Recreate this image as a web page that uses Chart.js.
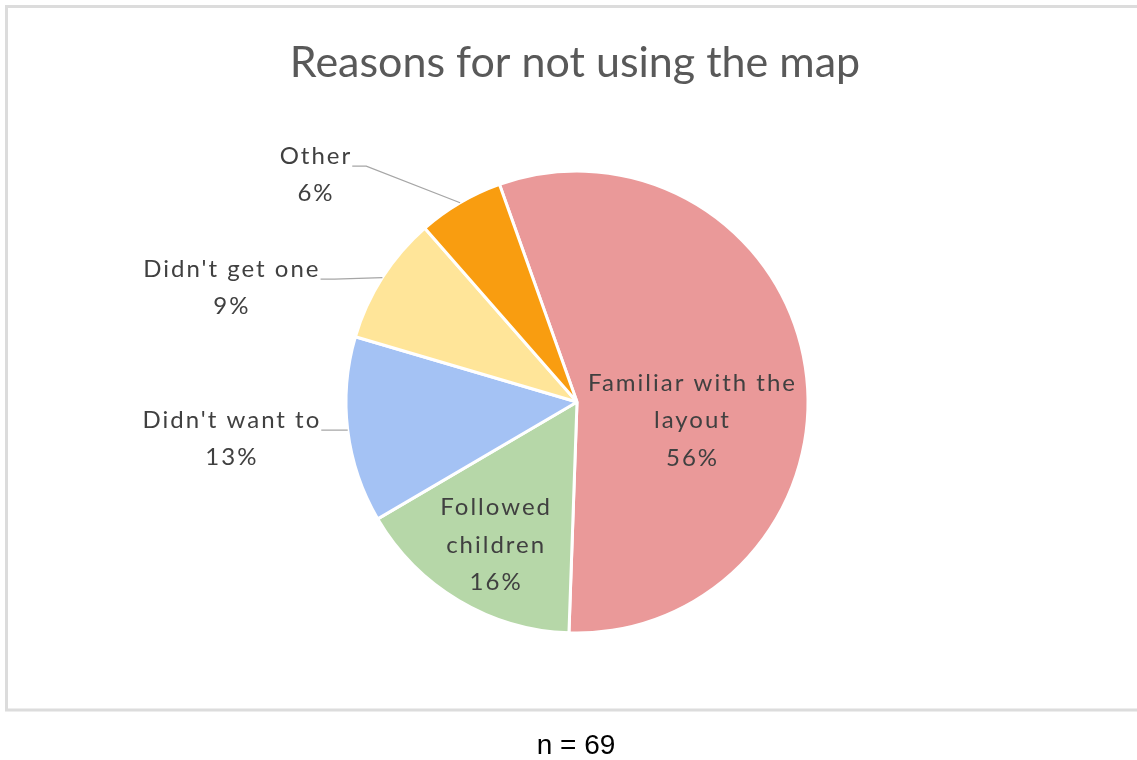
<!DOCTYPE html>
<html>
<head>
<meta charset="utf-8">
<script src="https://cdn.jsdelivr.net/npm/chart.js@4.4.1/dist/chart.umd.min.js"></script>
<style>
  html, body { margin: 0; padding: 0; background: #ffffff; }
  #wrap { width: 1137px; height: 760px; position: relative; }
</style>
</head>
<body>
<div id="wrap"><canvas id="chart" width="1137" height="760"></canvas></div>
<script>
// Survey answers: why respondents did not use the map (percent of answers)
const categories = ["Familiar with the layout", "Followed children", "Didn't want to", "Didn't get one", "Other"];
const percents = [56, 16, 13, 9, 6];
const sliceColors = ["#EA9999", "#B6D7A8", "#A4C2F4", "#FFE599", "#F99D10"];
const chartTitle = "Reasons for not using the map";
const sampleNote = "n = 69";

// Label placement, in units of the pie radius relative to its centre.
// inside: text sits on the slice; otherwise it sits outside with a leader line.
const labelLayout = [
  { dx: 0.50, dy: 0.08, inside: true, wrap: 240 },
  { dx: -0.35, dy: 0.62, inside: true, wrap: 130 },
  { dx: -1.494, dy: 0.16, inside: false, wrap: 400 },
  { dx: -1.494, dy: -0.494, inside: false, wrap: 400 },
  { dx: -1.13, dy: -0.983, inside: false, wrap: 400 }
];

const LABEL_FONT = '24px Lato, "Open Sans", sans-serif';
const LABEL_SPACING = '2px';
const LINE_H = 37.5;

function wrapText(ctx, text, maxW) {
  const words = text.split(' ');
  const lines = [];
  let cur = '';
  for (const w of words) {
    const t = cur ? cur + ' ' + w : w;
    if (cur && ctx.measureText(t).width > maxW) { lines.push(cur); cur = w; }
    else cur = t;
  }
  if (cur) lines.push(cur);
  return lines;
}

const decorations = {
  id: 'decorations',
  beforeDraw(chart) {
    const ctx = chart.ctx;
    ctx.save();
    ctx.fillStyle = '#ffffff';
    ctx.fillRect(0, 0, chart.width, chart.height);
    // chart frame (open on the right edge)
    ctx.strokeStyle = '#dcdcdc';
    ctx.lineWidth = 3;
    ctx.beginPath();
    ctx.moveTo(chart.width + 5, 6.5);
    ctx.lineTo(6.5, 6.5);
    ctx.lineTo(6.5, 710);
    ctx.lineTo(chart.width + 5, 710);
    ctx.stroke();
    // title
    ctx.fillStyle = '#595959';
    ctx.font = '43px Lato, "Open Sans", sans-serif';
    ctx.textAlign = 'center';
    ctx.textBaseline = 'middle';
    ctx.fillText(chartTitle, 575, 63);
    // sample size under the frame
    ctx.fillStyle = '#000000';
    ctx.font = '28px "Liberation Sans", Arial, sans-serif';
    ctx.fillText(sampleNote, 576, 746);
    ctx.restore();
  },
  afterDatasetsDraw(chart) {
    const ctx = chart.ctx;
    const meta = chart.getDatasetMeta(0);
    ctx.save();
    ctx.font = LABEL_FONT;
    if ('letterSpacing' in ctx) ctx.letterSpacing = LABEL_SPACING;
    ctx.textAlign = 'center';
    ctx.textBaseline = 'middle';
    meta.data.forEach((arc, i) => {
      const lay = labelLayout[i];
      const r = arc.outerRadius;
      const cx = arc.x + lay.dx * r;
      const cy = arc.y + lay.dy * r;
      const lines = wrapText(ctx, categories[i], lay.wrap);
      lines.push(percents[i] + '%');
      const top = cy - (lines.length - 1) * LINE_H / 2;
      if (!lay.inside) {
        const mid = (arc.startAngle + arc.endAngle) / 2;
        const px = arc.x + r * Math.cos(mid);
        const py = arc.y + r * Math.sin(mid);
        const w = ctx.measureText(lines[0]).width;
        const sx = cx + w / 2;
        const sy = top + 10;
        ctx.strokeStyle = '#a6a6a6';
        ctx.lineWidth = 1.2;
        ctx.beginPath();
        ctx.moveTo(sx, sy);
        ctx.lineTo(sx + 14, sy);
        ctx.lineTo(px, py);
        ctx.stroke();
      }
      ctx.fillStyle = '#404040';
      lines.forEach((ln, k) => ctx.fillText(ln, cx, top + k * LINE_H));
    });
    ctx.restore();
  }
};

new Chart(document.getElementById('chart'), {
  type: 'pie',
  data: {
    labels: categories,
    datasets: [{
      data: percents,
      backgroundColor: sliceColors,
      borderColor: '#ffffff',
      borderWidth: 3
    }]
  },
  options: {
    responsive: false,
    animation: false,
    rotation: -19.6,
    radius: 231,
    layout: { padding: { left: 17, right: 0, top: 44, bottom: 0 } },
    plugins: {
      legend: { display: false },
      tooltip: { enabled: false },
      title: { display: false }
    }
  },
  plugins: [decorations]
});
</script>
</body>
</html>
